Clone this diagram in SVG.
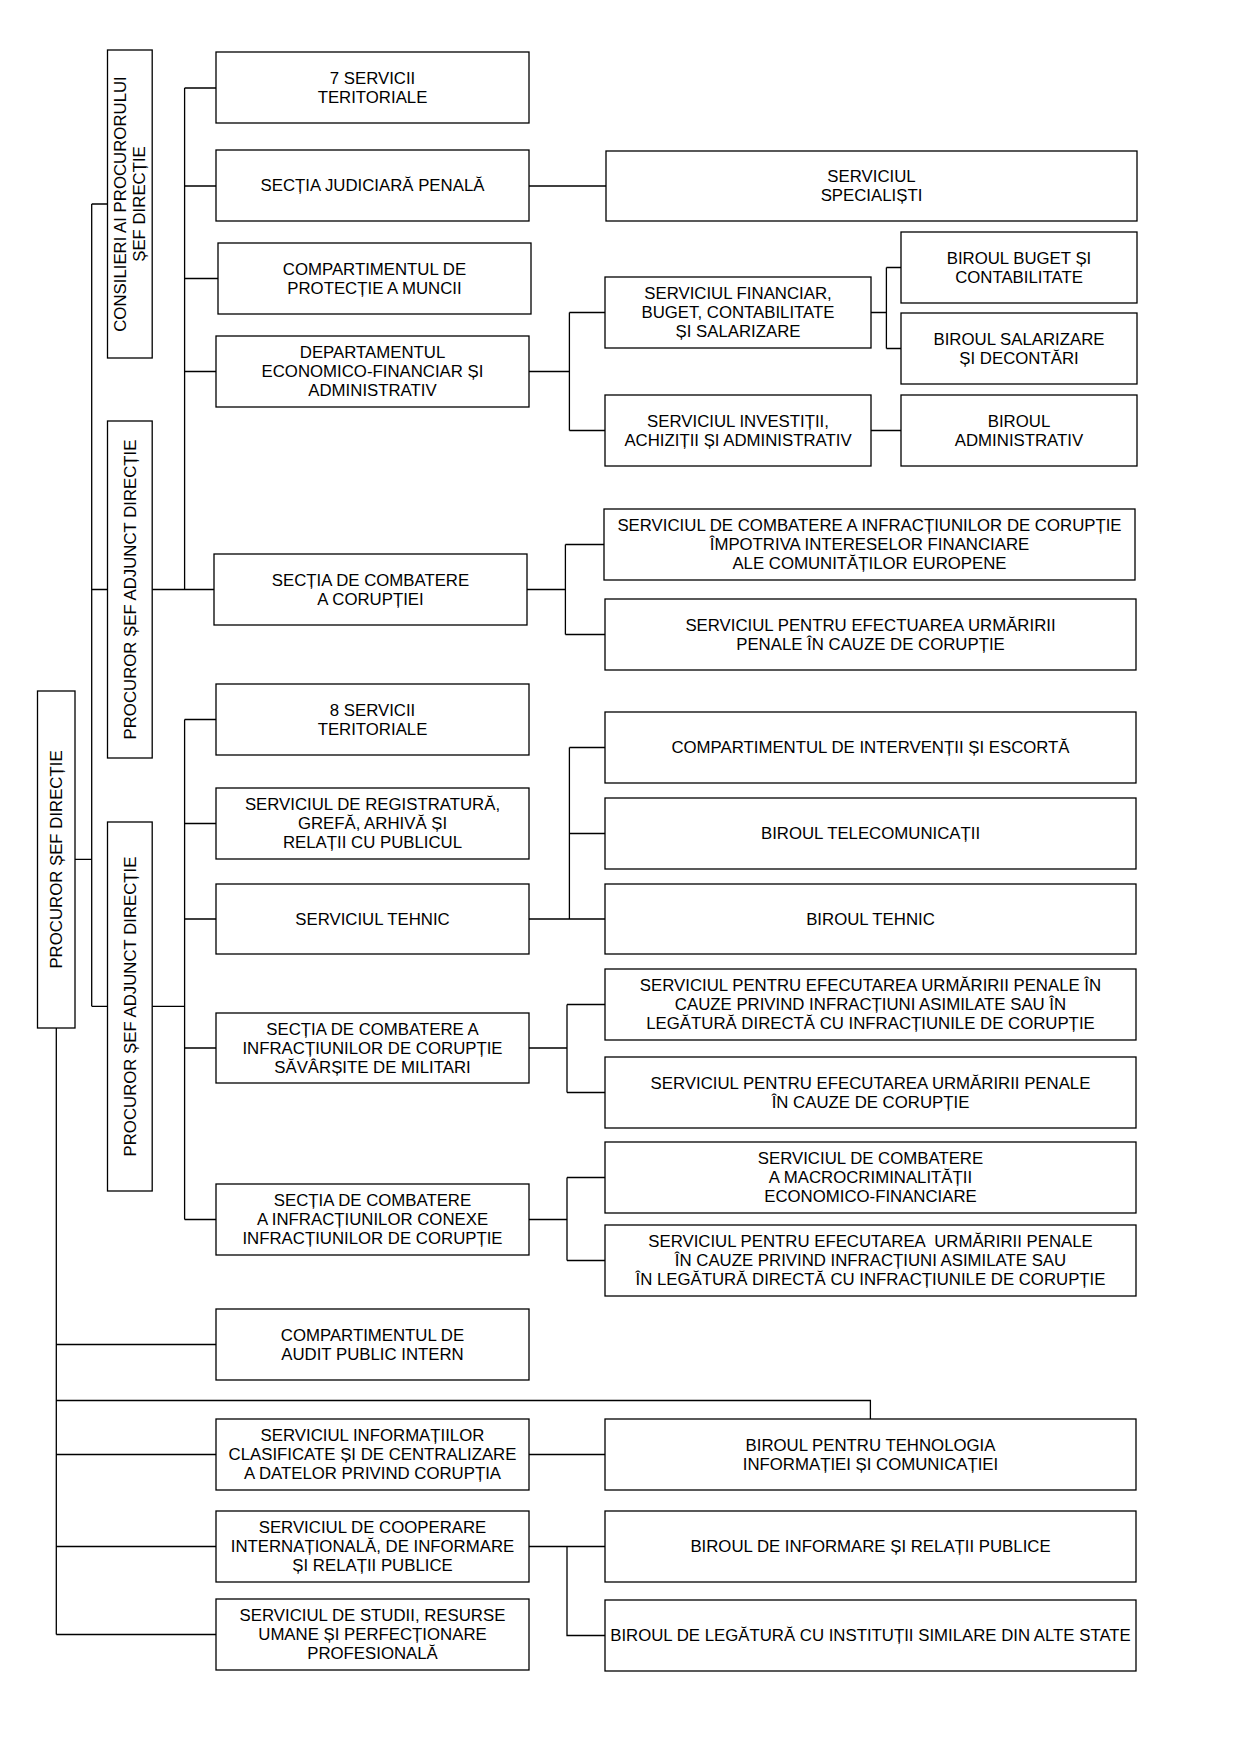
<svg xmlns="http://www.w3.org/2000/svg" width="1240" height="1754" viewBox="0 0 1240 1754">
<style>
.b{fill:#fff;stroke:#000;stroke-width:1.3}
.c{fill:none;stroke:#000;stroke-width:1.3}
text{font-family:"Liberation Sans",Arial,sans-serif;font-size:16.8px;fill:#000;text-anchor:middle}
</style>
<rect width="1240" height="1754" fill="#fff"/>
<g id="connectors" class="c">
<path d="M91.7 204H107.5M91.7 204V1006.3M91.7 589.5H107.5M152.2 589.5H214M91.7 1006.3H107.5M152.2 1006.3H184.6M75 859.3H91.7"/>
<path d="M184.6 88V589.5M184.6 88H216M184.6 186H216M184.6 278.5H218M184.6 371.5H216"/>
<path d="M184.6 719.5V1219.5M184.6 719.5H216M184.6 823.5H216M184.6 919H216M184.6 1048H216M184.6 1219.5H216"/>
<path d="M529 186H606"/>
<path d="M529 371.5H569.4M569.4 312.5V430.5M569.4 312.5H605M569.4 430.5H605"/>
<path d="M871 312.5H886.4M886.4 267.5V348.5M886.4 267.5H901M886.4 348.5H901M871 430.5H901"/>
<path d="M527 589.5H565.4M565.4 544.5V634.5M565.4 544.5H604M565.4 634.5H605"/>
<path d="M529 919H605M569.4 747.5V919M569.4 747.5H605M569.4 833.5H605"/>
<path d="M529 1048H567M567 1004.5V1092.5M567 1004.5H605M567 1092.5H605"/>
<path d="M529 1219.5H567M567 1177.5V1260.5M567 1177.5H605M567 1260.5H605"/>
<path d="M56.3 1028V1634.5M56.3 1344.5H216M56.3 1400.5H870.4V1419M56.3 1454.5H216M56.3 1546.5H216M56.3 1634.5H216"/>
<path d="M529 1454.5H605M529 1546.5H605M567 1546.5V1635.5H605"/>
</g>
<g id="n-consilieri"><rect class="b" x="107.5" y="50" width="44.7" height="308"/><text transform="translate(129.85,204) rotate(-90)"><tspan x="0" y="-3.6">CONSILIERI AI PROCURORULUI</tspan><tspan x="0" y="15.4">ȘEF DIRECȚIE</tspan></text></g>
<g id="n-adjunct1"><rect class="b" x="107.5" y="421" width="44.7" height="337"/><text transform="translate(129.85,589.5) rotate(-90)" y="5.9">PROCUROR ȘEF ADJUNCT DIRECȚIE</text></g>
<g id="n-adjunct2"><rect class="b" x="107.5" y="822" width="44.7" height="369"/><text transform="translate(129.85,1006.5) rotate(-90)" y="5.9">PROCUROR ȘEF ADJUNCT DIRECȚIE</text></g>
<g id="n-procuror"><rect class="b" x="37.5" y="691" width="37.5" height="337"/><text transform="translate(56.25,859.5) rotate(-90)" y="5.9">PROCUROR ȘEF DIRECȚIE</text></g>

<g id="n-7servicii"><rect class="b" x="216" y="52" width="313" height="71"/><text><tspan x="372.5" y="84">7 SERVICII</tspan><tspan x="372.5" y="103">TERITORIALE</tspan></text></g>
<g id="n-judiciara"><rect class="b" x="216" y="150" width="313" height="71"/><text x="372.5" y="191.4">SECȚIA JUDICIARĂ PENALĂ</text></g>
<g id="n-protectie"><rect class="b" x="218" y="243" width="313" height="71"/><text><tspan x="374.5" y="275">COMPARTIMENTUL DE</tspan><tspan x="374.5" y="294">PROTECȚIE A MUNCII</tspan></text></g>
<g id="n-departament"><rect class="b" x="216" y="336" width="313" height="71"/><text><tspan x="372.5" y="358.4">DEPARTAMENTUL</tspan><tspan x="372.5" y="377.4">ECONOMICO-FINANCIAR ȘI</tspan><tspan x="372.5" y="396.4">ADMINISTRATIV</tspan></text></g>
<g id="n-coruptiei"><rect class="b" x="214" y="554" width="313" height="71"/><text><tspan x="370.5" y="586">SECȚIA DE COMBATERE</tspan><tspan x="370.5" y="605">A CORUPȚIEI</tspan></text></g>
<g id="n-8servicii"><rect class="b" x="216" y="684" width="313" height="71"/><text><tspan x="372.5" y="716">8 SERVICII</tspan><tspan x="372.5" y="735">TERITORIALE</tspan></text></g>
<g id="n-registratura"><rect class="b" x="216" y="788" width="313" height="71"/><text><tspan x="372.5" y="810.4">SERVICIUL DE REGISTRATURĂ,</tspan><tspan x="372.5" y="829.4">GREFĂ, ARHIVĂ ȘI</tspan><tspan x="372.5" y="848.4">RELAȚII CU PUBLICUL</tspan></text></g>
<g id="n-tehnic"><rect class="b" x="216" y="884" width="313" height="70"/><text x="372.5" y="924.9">SERVICIUL TEHNIC</text></g>
<g id="n-militari"><rect class="b" x="216" y="1013" width="313" height="70"/><text><tspan x="372.5" y="1034.9">SECȚIA DE COMBATERE A</tspan><tspan x="372.5" y="1053.9">INFRACȚIUNILOR DE CORUPȚIE</tspan><tspan x="372.5" y="1072.9">SĂVÂRȘITE DE MILITARI</tspan></text></g>
<g id="n-conexe"><rect class="b" x="216" y="1184" width="313" height="71"/><text><tspan x="372.5" y="1206.4">SECȚIA DE COMBATERE</tspan><tspan x="372.5" y="1225.4">A INFRACȚIUNILOR CONEXE</tspan><tspan x="372.5" y="1244.4">INFRACȚIUNILOR DE CORUPȚIE</tspan></text></g>
<g id="n-audit"><rect class="b" x="216" y="1309" width="313" height="71"/><text><tspan x="372.5" y="1341">COMPARTIMENTUL DE</tspan><tspan x="372.5" y="1360">AUDIT PUBLIC INTERN</tspan></text></g>
<g id="n-informatiilor"><rect class="b" x="216" y="1419" width="313" height="71"/><text><tspan x="372.5" y="1441.4">SERVICIUL INFORMAȚIILOR</tspan><tspan x="372.5" y="1460.4">CLASIFICATE ȘI DE CENTRALIZARE</tspan><tspan x="372.5" y="1479.4">A DATELOR PRIVIND CORUPȚIA</tspan></text></g>
<g id="n-cooperare"><rect class="b" x="216" y="1511" width="313" height="71"/><text><tspan x="372.5" y="1533.4">SERVICIUL DE COOPERARE</tspan><tspan x="372.5" y="1552.4">INTERNAȚIONALĂ, DE INFORMARE</tspan><tspan x="372.5" y="1571.4">ȘI RELAȚII PUBLICE</tspan></text></g>
<g id="n-studii"><rect class="b" x="216" y="1599" width="313" height="71"/><text><tspan x="372.5" y="1621.4">SERVICIUL DE STUDII, RESURSE</tspan><tspan x="372.5" y="1640.4">UMANE ȘI PERFECȚIONARE</tspan><tspan x="372.5" y="1659.4">PROFESIONALĂ</tspan></text></g>

<g id="n-specialisti"><rect class="b" x="606" y="151" width="531" height="70"/><text><tspan x="871.5" y="182.4">SERVICIUL</tspan><tspan x="871.5" y="201.4">SPECIALIȘTI</tspan></text></g>
<g id="n-financiar"><rect class="b" x="605" y="277" width="266" height="71"/><text><tspan x="738" y="299.4">SERVICIUL FINANCIAR,</tspan><tspan x="738" y="318.4">BUGET, CONTABILITATE</tspan><tspan x="738" y="337.4">ȘI SALARIZARE</tspan></text></g>
<g id="n-investitii"><rect class="b" x="605" y="395" width="266" height="71"/><text><tspan x="738" y="427">SERVICIUL INVESTIȚII,</tspan><tspan x="738" y="446">ACHIZIȚII ȘI ADMINISTRATIV</tspan></text></g>
<g id="n-buget"><rect class="b" x="901" y="232" width="236" height="71"/><text><tspan x="1019" y="264">BIROUL BUGET ȘI</tspan><tspan x="1019" y="283">CONTABILITATE</tspan></text></g>
<g id="n-salarizare"><rect class="b" x="901" y="313" width="236" height="71"/><text><tspan x="1019" y="345">BIROUL SALARIZARE</tspan><tspan x="1019" y="364">ȘI DECONTĂRI</tspan></text></g>
<g id="n-administrativ"><rect class="b" x="901" y="395" width="236" height="71"/><text><tspan x="1019" y="427">BIROUL</tspan><tspan x="1019" y="446">ADMINISTRATIV</tspan></text></g>

<g id="n-europene"><rect class="b" x="604" y="509" width="531" height="71"/><text><tspan x="869.5" y="531.4">SERVICIUL DE COMBATERE A INFRACȚIUNILOR DE CORUPȚIE</tspan><tspan x="869.5" y="550.4">ÎMPOTRIVA INTERESELOR FINANCIARE</tspan><tspan x="869.5" y="569.4">ALE COMUNITĂȚILOR EUROPENE</tspan></text></g>
<g id="n-efectuarea"><rect class="b" x="605" y="599" width="531" height="71"/><text><tspan x="870.5" y="631">SERVICIUL PENTRU EFECTUAREA URMĂRIRII</tspan><tspan x="870.5" y="650">PENALE ÎN CAUZE DE CORUPȚIE</tspan></text></g>
<g id="n-interventii"><rect class="b" x="605" y="712" width="531" height="71"/><text x="870.5" y="753.4">COMPARTIMENTUL DE INTERVENȚII ȘI ESCORTĂ</text></g>
<g id="n-telecom"><rect class="b" x="605" y="798" width="531" height="71"/><text x="870.5" y="839.4">BIROUL TELECOMUNICAȚII</text></g>
<g id="n-birou-tehnic"><rect class="b" x="605" y="884" width="531" height="70"/><text x="870.5" y="924.9">BIROUL TEHNIC</text></g>
<g id="n-asimilate1"><rect class="b" x="605" y="969" width="531" height="71"/><text><tspan x="870.5" y="991.4">SERVICIUL PENTRU EFECUTAREA URMĂRIRII PENALE ÎN</tspan><tspan x="870.5" y="1010.4">CAUZE PRIVIND INFRACȚIUNI ASIMILATE SAU ÎN</tspan><tspan x="870.5" y="1029.4">LEGĂTURĂ DIRECTĂ CU INFRACȚIUNILE DE CORUPȚIE</tspan></text></g>
<g id="n-efecutarea"><rect class="b" x="605" y="1057" width="531" height="71"/><text><tspan x="870.5" y="1089">SERVICIUL PENTRU EFECUTAREA URMĂRIRII PENALE</tspan><tspan x="870.5" y="1108">ÎN CAUZE DE CORUPȚIE</tspan></text></g>
<g id="n-macro"><rect class="b" x="605" y="1142" width="531" height="71"/><text><tspan x="870.5" y="1164.4">SERVICIUL DE COMBATERE</tspan><tspan x="870.5" y="1183.4">A MACROCRIMINALITĂȚII</tspan><tspan x="870.5" y="1202.4">ECONOMICO-FINANCIARE</tspan></text></g>
<g id="n-asimilate2"><rect class="b" x="605" y="1225" width="531" height="71"/><text xml:space="preserve"><tspan x="870.5" y="1247.4">SERVICIUL PENTRU EFECUTAREA  URMĂRIRII PENALE</tspan><tspan x="870.5" y="1266.4">ÎN CAUZE PRIVIND INFRACȚIUNI ASIMILATE SAU</tspan><tspan x="870.5" y="1285.4">ÎN LEGĂTURĂ DIRECTĂ CU INFRACȚIUNILE DE CORUPȚIE</tspan></text></g>
<g id="n-tehnologia"><rect class="b" x="605" y="1419" width="531" height="71"/><text><tspan x="870.5" y="1451">BIROUL PENTRU TEHNOLOGIA</tspan><tspan x="870.5" y="1470">INFORMAȚIEI ȘI COMUNICAȚIEI</tspan></text></g>
<g id="n-informare"><rect class="b" x="605" y="1511" width="531" height="71"/><text x="870.5" y="1552.4">BIROUL DE INFORMARE ȘI RELAȚII PUBLICE</text></g>
<g id="n-legatura"><rect class="b" x="605" y="1600" width="531" height="71"/><text x="870.5" y="1641.4">BIROUL DE LEGĂTURĂ CU INSTITUȚII SIMILARE DIN ALTE STATE</text></g>
</svg>
